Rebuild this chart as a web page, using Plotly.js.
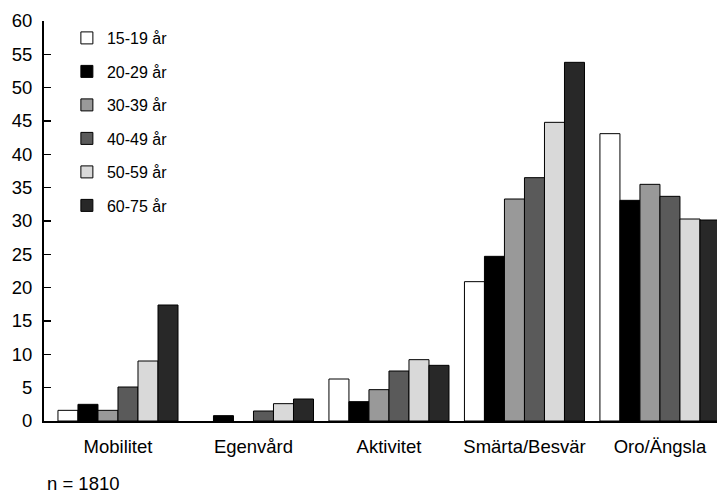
<!DOCTYPE html>
<html>
<head>
<meta charset="utf-8">
<script src="https://cdn.plot.ly/plotly-3.0.1.min.js"></script>
<style>html,body{margin:0;padding:0;background:#fff;}#chart{width:717px;height:494px;}</style>
</head>
<body>
<div id="chart"></div>
<script>
const categories = ["Mobilitet", "Egenvård", "Aktivitet", "Smärta/Besvär", "Oro/Ängsla"];
const seriesNames = ["15-19 år", "20-29 år", "30-39 år", "40-49 år", "50-59 år", "60-75 år"];
const age15_19 = [1.6, 0, 6.3, 20.9, 43.1];
const age20_29 = [2.5, 0.8, 2.9, 24.7, 33.1];
const age30_39 = [1.6, 0, 4.7, 33.3, 35.5];
const age40_49 = [5.1, 1.5, 7.5, 36.5, 33.7];
const age50_59 = [9.0, 2.6, 9.2, 44.8, 30.3];
const age60_75 = [17.4, 3.3, 8.35, 53.8, 30.15];
const yTicks = [0, 5, 10, 15, 20, 25, 30, 35, 40, 45, 50, 55, 60];

const seriesValues = [age15_19, age20_29, age30_39, age40_49, age50_59, age60_75];
const colors = ["#ffffff", "#000000", "#999999", "#5a5a5a", "#d9d9d9", "#282828"];

const traces = seriesValues.map((vals, i) => ({
  type: "bar",
  name: seriesNames[i],
  x: categories,
  y: vals,
  legendgroup: "g" + i,
  marker: {
    color: colors[i],
    line: { color: "#000000", width: vals.map(v => (v > 0 ? 1 : 0)) }
  },
  hoverinfo: "x+y+name"
}));

const layout = {
  width: 717,
  height: 494,
  margin: { l: 44, r: 0, t: 21, b: 73, pad: 0 },
  paper_bgcolor: "#ffffff",
  plot_bgcolor: "#ffffff",
  font: { family: "Liberation Sans, Arial, sans-serif", color: "#000000", size: 18 },
  barmode: "group",
  bargap: 0.114,
  bargroupgap: 0,
  showlegend: true,
  legend: {
    x: 0.034, y: 1.0, xanchor: "left", yanchor: "top",
    bgcolor: "rgba(0,0,0,0)",
    font: { size: 16, color: "#000000" },
    tracegroupgap: 9.7,
    traceorder: "grouped"
  },
  xaxis: {
    type: "category",
    range: [-0.546, 4.421],
    showline: true, linecolor: "#000000", linewidth: 2,
    ticks: "", showgrid: false, zeroline: false,
    tickfont: { size: 18.5, color: "#000000" },
    ticklabelstandoff: 8
  },
  yaxis: {
    range: [0, 60],
    tickvals: yTicks,
    ticktext: yTicks.map(String),
    showline: true, linecolor: "#000000", linewidth: 2,
    ticks: "inside", ticklen: 7, tickwidth: 1.5, tickcolor: "#000000",
    showgrid: false, zeroline: false,
    tickfont: { size: 18.5, color: "#000000" },
    ticklabelstandoff: 6
  },
  annotations: [{
    text: "n = 1810",
    xref: "paper", yref: "paper",
    x: 0.0015, y: -0.156, xanchor: "left", yanchor: "middle",
    showarrow: false,
    font: { size: 18.5, color: "#000000" }
  }]
};

Plotly.newPlot("chart", traces, layout, { displayModeBar: false, staticPlot: true });
</script>
</body>
</html>
